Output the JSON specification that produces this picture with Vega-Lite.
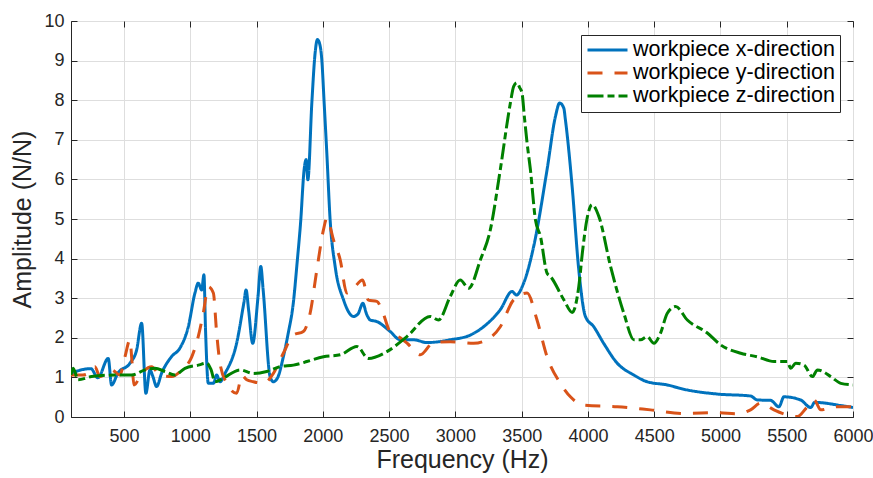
{
  "$schema": "https://vega.github.io/schema/vega-lite/v6.json",
  "width": 782,
  "height": 396,
  "autosize": "none",
  "padding": {"left": 71, "top": 21, "right": 20, "bottom": 61},
  "background": "white",
  "config": {
    "font": "Liberation Sans",
    "view": {"stroke": "#262626", "strokeWidth": 1},
    "axis": {
      "labelFontSize": 18,
      "labelColor": "#262626",
      "titleColor": "#262626",
      "titleFontSize": 25,
      "titleFontWeight": "normal",
      "domainColor": "#262626",
      "tickColor": "#262626",
      "gridColor": "#dedede",
      "gridWidth": 1,
      "tickSize": -6,
      "labelOverlap": false,
      "labelFlush": false,
      "labelFont": "Liberation Sans",
      "titleFont": "Liberation Sans"
    },
    "legend": {
      "orient": "none",
      "legendX": 510,
      "legendY": 14,
      "strokeColor": "#262626",
      "fillColor": "white",
      "padding": 5,
      "symbolType": "stroke",
      "symbolSize": 1600,
      "symbolStrokeWidth": 3,
      "clipHeight": 20,
      "labelFontSize": 21.5,
      "labelColor": "#000000",
      "labelOffset": 4,
      "labelLimit": 400,
      "rowPadding": 1,
      "labelFont": "Liberation Sans"
    }
  },
  "datasets": {
    "curves": [
      {"f": 100, "a": 1.10, "s": "workpiece x-direction"},
      {"f": 190, "a": 1.20, "s": "workpiece x-direction"},
      {"f": 250, "a": 1.22, "s": "workpiece x-direction"},
      {"f": 303, "a": 0.99, "s": "workpiece x-direction"},
      {"f": 381, "a": 1.48, "s": "workpiece x-direction"},
      {"f": 406, "a": 0.81, "s": "workpiece x-direction"},
      {"f": 454, "a": 1.11, "s": "workpiece x-direction"},
      {"f": 545, "a": 1.36, "s": "workpiece x-direction"},
      {"f": 595, "a": 1.69, "s": "workpiece x-direction"},
      {"f": 633, "a": 2.37, "s": "workpiece x-direction"},
      {"f": 665, "a": 0.60, "s": "workpiece x-direction"},
      {"f": 696, "a": 1.19, "s": "workpiece x-direction"},
      {"f": 718, "a": 1.02, "s": "workpiece x-direction"},
      {"f": 746, "a": 0.77, "s": "workpiece x-direction"},
      {"f": 784, "a": 1.11, "s": "workpiece x-direction"},
      {"f": 860, "a": 1.53, "s": "workpiece x-direction"},
      {"f": 922, "a": 1.74, "s": "workpiece x-direction"},
      {"f": 985, "a": 2.28, "s": "workpiece x-direction"},
      {"f": 1035, "a": 3.13, "s": "workpiece x-direction"},
      {"f": 1060, "a": 3.38, "s": "workpiece x-direction"},
      {"f": 1086, "a": 3.21, "s": "workpiece x-direction"},
      {"f": 1103, "a": 3.59, "s": "workpiece x-direction"},
      {"f": 1115, "a": 2.2, "s": "workpiece x-direction"},
      {"f": 1136, "a": 0.85, "s": "workpiece x-direction"},
      {"f": 1174, "a": 0.85, "s": "workpiece x-direction"},
      {"f": 1199, "a": 1.06, "s": "workpiece x-direction"},
      {"f": 1224, "a": 0.89, "s": "workpiece x-direction"},
      {"f": 1262, "a": 1.10, "s": "workpiece x-direction"},
      {"f": 1350, "a": 1.87, "s": "workpiece x-direction"},
      {"f": 1405, "a": 2.9, "s": "workpiece x-direction"},
      {"f": 1421, "a": 3.21, "s": "workpiece x-direction"},
      {"f": 1440, "a": 2.7, "s": "workpiece x-direction"},
      {"f": 1471, "a": 1.86, "s": "workpiece x-direction"},
      {"f": 1510, "a": 3.0, "s": "workpiece x-direction"},
      {"f": 1532, "a": 3.80, "s": "workpiece x-direction"},
      {"f": 1550, "a": 3.2, "s": "workpiece x-direction"},
      {"f": 1602, "a": 1.02, "s": "workpiece x-direction"},
      {"f": 1627, "a": 0.89, "s": "workpiece x-direction"},
      {"f": 1660, "a": 1.0, "s": "workpiece x-direction"},
      {"f": 1702, "a": 1.52, "s": "workpiece x-direction"},
      {"f": 1738, "a": 2.1, "s": "workpiece x-direction"},
      {"f": 1778, "a": 2.9, "s": "workpiece x-direction"},
      {"f": 1806, "a": 3.9, "s": "workpiece x-direction"},
      {"f": 1832, "a": 4.9, "s": "workpiece x-direction"},
      {"f": 1859, "a": 6.25, "s": "workpiece x-direction"},
      {"f": 1874, "a": 6.5, "s": "workpiece x-direction"},
      {"f": 1887, "a": 5.99, "s": "workpiece x-direction"},
      {"f": 1917, "a": 7.93, "s": "workpiece x-direction"},
      {"f": 1942, "a": 9.2, "s": "workpiece x-direction"},
      {"f": 1959, "a": 9.53, "s": "workpiece x-direction"},
      {"f": 1974, "a": 9.45, "s": "workpiece x-direction"},
      {"f": 1992, "a": 9.03, "s": "workpiece x-direction"},
      {"f": 2010, "a": 7.93, "s": "workpiece x-direction"},
      {"f": 2030, "a": 6.67, "s": "workpiece x-direction"},
      {"f": 2055, "a": 4.98, "s": "workpiece x-direction"},
      {"f": 2093, "a": 3.80, "s": "workpiece x-direction"},
      {"f": 2156, "a": 2.96, "s": "workpiece x-direction"},
      {"f": 2231, "a": 2.54, "s": "workpiece x-direction"},
      {"f": 2265, "a": 2.6, "s": "workpiece x-direction"},
      {"f": 2302, "a": 2.87, "s": "workpiece x-direction"},
      {"f": 2330, "a": 2.6, "s": "workpiece x-direction"},
      {"f": 2357, "a": 2.45, "s": "workpiece x-direction"},
      {"f": 2408, "a": 2.41, "s": "workpiece x-direction"},
      {"f": 2508, "a": 2.16, "s": "workpiece x-direction"},
      {"f": 2584, "a": 1.95, "s": "workpiece x-direction"},
      {"f": 2684, "a": 1.95, "s": "workpiece x-direction"},
      {"f": 2786, "a": 1.88, "s": "workpiece x-direction"},
      {"f": 2961, "a": 1.95, "s": "workpiece x-direction"},
      {"f": 3113, "a": 2.07, "s": "workpiece x-direction"},
      {"f": 3213, "a": 2.28, "s": "workpiece x-direction"},
      {"f": 3339, "a": 2.71, "s": "workpiece x-direction"},
      {"f": 3428, "a": 3.17, "s": "workpiece x-direction"},
      {"f": 3460, "a": 3.08, "s": "workpiece x-direction"},
      {"f": 3515, "a": 3.38, "s": "workpiece x-direction"},
      {"f": 3591, "a": 4.31, "s": "workpiece x-direction"},
      {"f": 3692, "a": 6.25, "s": "workpiece x-direction"},
      {"f": 3755, "a": 7.59, "s": "workpiece x-direction"},
      {"f": 3787, "a": 7.93, "s": "workpiece x-direction"},
      {"f": 3818, "a": 7.8, "s": "workpiece x-direction"},
      {"f": 3830, "a": 7.51, "s": "workpiece x-direction"},
      {"f": 3881, "a": 5.82, "s": "workpiece x-direction"},
      {"f": 3931, "a": 3.72, "s": "workpiece x-direction"},
      {"f": 3981, "a": 2.54, "s": "workpiece x-direction"},
      {"f": 4044, "a": 2.28, "s": "workpiece x-direction"},
      {"f": 4119, "a": 1.86, "s": "workpiece x-direction"},
      {"f": 4221, "a": 1.36, "s": "workpiece x-direction"},
      {"f": 4346, "a": 1.06, "s": "workpiece x-direction"},
      {"f": 4447, "a": 0.89, "s": "workpiece x-direction"},
      {"f": 4598, "a": 0.81, "s": "workpiece x-direction"},
      {"f": 4724, "a": 0.70, "s": "workpiece x-direction"},
      {"f": 4976, "a": 0.58, "s": "workpiece x-direction"},
      {"f": 5227, "a": 0.53, "s": "workpiece x-direction"},
      {"f": 5278, "a": 0.43, "s": "workpiece x-direction"},
      {"f": 5378, "a": 0.42, "s": "workpiece x-direction"},
      {"f": 5441, "a": 0.26, "s": "workpiece x-direction"},
      {"f": 5479, "a": 0.51, "s": "workpiece x-direction"},
      {"f": 5605, "a": 0.43, "s": "workpiece x-direction"},
      {"f": 5681, "a": 0.24, "s": "workpiece x-direction"},
      {"f": 5711, "a": 0.37, "s": "workpiece x-direction"},
      {"f": 5907, "a": 0.29, "s": "workpiece x-direction"},
      {"f": 6000, "a": 0.24, "s": "workpiece x-direction"},

      {"f": 100, "a": 1.06, "s": "workpiece y-direction"},
      {"f": 190, "a": 1.06, "s": "workpiece y-direction"},
      {"f": 230, "a": 1.10, "s": "workpiece y-direction"},
      {"f": 280, "a": 1.27, "s": "workpiece y-direction"},
      {"f": 318, "a": 1.02, "s": "workpiece y-direction"},
      {"f": 406, "a": 1.19, "s": "workpiece y-direction"},
      {"f": 469, "a": 1.06, "s": "workpiece y-direction"},
      {"f": 507, "a": 1.52, "s": "workpiece y-direction"},
      {"f": 545, "a": 1.95, "s": "workpiece y-direction"},
      {"f": 560, "a": 1.4, "s": "workpiece y-direction"},
      {"f": 575, "a": 0.81, "s": "workpiece y-direction"},
      {"f": 635, "a": 1.11, "s": "workpiece y-direction"},
      {"f": 708, "a": 1.27, "s": "workpiece y-direction"},
      {"f": 771, "a": 1.06, "s": "workpiece y-direction"},
      {"f": 860, "a": 1.02, "s": "workpiece y-direction"},
      {"f": 935, "a": 1.19, "s": "workpiece y-direction"},
      {"f": 1011, "a": 1.52, "s": "workpiece y-direction"},
      {"f": 1060, "a": 2.03, "s": "workpiece y-direction"},
      {"f": 1098, "a": 2.62, "s": "workpiece y-direction"},
      {"f": 1136, "a": 3.29, "s": "workpiece y-direction"},
      {"f": 1174, "a": 3.13, "s": "workpiece y-direction"},
      {"f": 1199, "a": 2.12, "s": "workpiece y-direction"},
      {"f": 1224, "a": 1.36, "s": "workpiece y-direction"},
      {"f": 1275, "a": 0.85, "s": "workpiece y-direction"},
      {"f": 1350, "a": 0.60, "s": "workpiece y-direction"},
      {"f": 1390, "a": 1.05, "s": "workpiece y-direction"},
      {"f": 1426, "a": 0.94, "s": "workpiece y-direction"},
      {"f": 1476, "a": 0.89, "s": "workpiece y-direction"},
      {"f": 1551, "a": 0.85, "s": "workpiece y-direction"},
      {"f": 1627, "a": 1.10, "s": "workpiece y-direction"},
      {"f": 1702, "a": 1.61, "s": "workpiece y-direction"},
      {"f": 1778, "a": 2.07, "s": "workpiece y-direction"},
      {"f": 1853, "a": 2.16, "s": "workpiece y-direction"},
      {"f": 1904, "a": 2.62, "s": "workpiece y-direction"},
      {"f": 1955, "a": 3.72, "s": "workpiece y-direction"},
      {"f": 2005, "a": 4.73, "s": "workpiece y-direction"},
      {"f": 2030, "a": 5.02, "s": "workpiece y-direction"},
      {"f": 2080, "a": 4.48, "s": "workpiece y-direction"},
      {"f": 2131, "a": 3.97, "s": "workpiece y-direction"},
      {"f": 2181, "a": 3.13, "s": "workpiece y-direction"},
      {"f": 2231, "a": 3.25, "s": "workpiece y-direction"},
      {"f": 2300, "a": 3.46, "s": "workpiece y-direction"},
      {"f": 2344, "a": 2.95, "s": "workpiece y-direction"},
      {"f": 2408, "a": 2.92, "s": "workpiece y-direction"},
      {"f": 2446, "a": 2.7, "s": "workpiece y-direction"},
      {"f": 2508, "a": 2.15, "s": "workpiece y-direction"},
      {"f": 2584, "a": 2.0, "s": "workpiece y-direction"},
      {"f": 2640, "a": 1.85, "s": "workpiece y-direction"},
      {"f": 2735, "a": 1.57, "s": "workpiece y-direction"},
      {"f": 2835, "a": 1.88, "s": "workpiece y-direction"},
      {"f": 2961, "a": 1.90, "s": "workpiece y-direction"},
      {"f": 3138, "a": 1.86, "s": "workpiece y-direction"},
      {"f": 3239, "a": 1.95, "s": "workpiece y-direction"},
      {"f": 3339, "a": 2.28, "s": "workpiece y-direction"},
      {"f": 3440, "a": 2.96, "s": "workpiece y-direction"},
      {"f": 3541, "a": 3.13, "s": "workpiece y-direction"},
      {"f": 3616, "a": 2.45, "s": "workpiece y-direction"},
      {"f": 3692, "a": 1.52, "s": "workpiece y-direction"},
      {"f": 3792, "a": 0.85, "s": "workpiece y-direction"},
      {"f": 3868, "a": 0.51, "s": "workpiece y-direction"},
      {"f": 3969, "a": 0.30, "s": "workpiece y-direction"},
      {"f": 4221, "a": 0.26, "s": "workpiece y-direction"},
      {"f": 4472, "a": 0.18, "s": "workpiece y-direction"},
      {"f": 4724, "a": 0.09, "s": "workpiece y-direction"},
      {"f": 4976, "a": 0.11, "s": "workpiece y-direction"},
      {"f": 5127, "a": 0.08, "s": "workpiece y-direction"},
      {"f": 5227, "a": 0.18, "s": "workpiece y-direction"},
      {"f": 5303, "a": 0.35, "s": "workpiece y-direction"},
      {"f": 5404, "a": 0.18, "s": "workpiece y-direction"},
      {"f": 5467, "a": 0.09, "s": "workpiece y-direction"},
      {"f": 5580, "a": 0.01, "s": "workpiece y-direction"},
      {"f": 5656, "a": 0.26, "s": "workpiece y-direction"},
      {"f": 5707, "a": 0.43, "s": "workpiece y-direction"},
      {"f": 5757, "a": 0.18, "s": "workpiece y-direction"},
      {"f": 5858, "a": 0.26, "s": "workpiece y-direction"},
      {"f": 6000, "a": 0.26, "s": "workpiece y-direction"},

      {"f": 100, "a": 1.06, "s": "workpiece z-direction"},
      {"f": 116, "a": 1.23, "s": "workpiece z-direction"},
      {"f": 154, "a": 0.94, "s": "workpiece z-direction"},
      {"f": 255, "a": 1.02, "s": "workpiece z-direction"},
      {"f": 431, "a": 1.06, "s": "workpiece z-direction"},
      {"f": 557, "a": 1.06, "s": "workpiece z-direction"},
      {"f": 658, "a": 1.19, "s": "workpiece z-direction"},
      {"f": 733, "a": 1.23, "s": "workpiece z-direction"},
      {"f": 809, "a": 1.15, "s": "workpiece z-direction"},
      {"f": 884, "a": 1.06, "s": "workpiece z-direction"},
      {"f": 960, "a": 1.23, "s": "workpiece z-direction"},
      {"f": 1060, "a": 1.31, "s": "workpiece z-direction"},
      {"f": 1124, "a": 1.36, "s": "workpiece z-direction"},
      {"f": 1156, "a": 1.2, "s": "workpiece z-direction"},
      {"f": 1187, "a": 0.89, "s": "workpiece z-direction"},
      {"f": 1249, "a": 0.98, "s": "workpiece z-direction"},
      {"f": 1375, "a": 1.19, "s": "workpiece z-direction"},
      {"f": 1476, "a": 1.10, "s": "workpiece z-direction"},
      {"f": 1577, "a": 1.15, "s": "workpiece z-direction"},
      {"f": 1677, "a": 1.27, "s": "workpiece z-direction"},
      {"f": 1778, "a": 1.31, "s": "workpiece z-direction"},
      {"f": 1829, "a": 1.35, "s": "workpiece z-direction"},
      {"f": 1879, "a": 1.40, "s": "workpiece z-direction"},
      {"f": 2005, "a": 1.52, "s": "workpiece z-direction"},
      {"f": 2131, "a": 1.57, "s": "workpiece z-direction"},
      {"f": 2257, "a": 1.78, "s": "workpiece z-direction"},
      {"f": 2344, "a": 1.48, "s": "workpiece z-direction"},
      {"f": 2483, "a": 1.65, "s": "workpiece z-direction"},
      {"f": 2634, "a": 2.03, "s": "workpiece z-direction"},
      {"f": 2810, "a": 2.54, "s": "workpiece z-direction"},
      {"f": 2873, "a": 2.45, "s": "workpiece z-direction"},
      {"f": 2961, "a": 3.04, "s": "workpiece z-direction"},
      {"f": 3037, "a": 3.46, "s": "workpiece z-direction"},
      {"f": 3100, "a": 3.25, "s": "workpiece z-direction"},
      {"f": 3189, "a": 3.97, "s": "workpiece z-direction"},
      {"f": 3264, "a": 4.73, "s": "workpiece z-direction"},
      {"f": 3339, "a": 6.25, "s": "workpiece z-direction"},
      {"f": 3415, "a": 7.93, "s": "workpiece z-direction"},
      {"f": 3440, "a": 8.35, "s": "workpiece z-direction"},
      {"f": 3465, "a": 8.44, "s": "workpiece z-direction"},
      {"f": 3485, "a": 8.32, "s": "workpiece z-direction"},
      {"f": 3503, "a": 8.18, "s": "workpiece z-direction"},
      {"f": 3520, "a": 7.6, "s": "workpiece z-direction"},
      {"f": 3541, "a": 6.92, "s": "workpiece z-direction"},
      {"f": 3566, "a": 6.25, "s": "workpiece z-direction"},
      {"f": 3604, "a": 4.98, "s": "workpiece z-direction"},
      {"f": 3642, "a": 4.56, "s": "workpiece z-direction"},
      {"f": 3692, "a": 3.63, "s": "workpiece z-direction"},
      {"f": 3717, "a": 3.55, "s": "workpiece z-direction"},
      {"f": 3818, "a": 2.96, "s": "workpiece z-direction"},
      {"f": 3881, "a": 2.64, "s": "workpiece z-direction"},
      {"f": 3931, "a": 3.29, "s": "workpiece z-direction"},
      {"f": 3960, "a": 4.2, "s": "workpiece z-direction"},
      {"f": 3994, "a": 5.02, "s": "workpiece z-direction"},
      {"f": 4032, "a": 5.36, "s": "workpiece z-direction"},
      {"f": 4083, "a": 5.06, "s": "workpiece z-direction"},
      {"f": 4171, "a": 3.80, "s": "workpiece z-direction"},
      {"f": 4271, "a": 2.62, "s": "workpiece z-direction"},
      {"f": 4347, "a": 1.95, "s": "workpiece z-direction"},
      {"f": 4397, "a": 1.95, "s": "workpiece z-direction"},
      {"f": 4447, "a": 2.03, "s": "workpiece z-direction"},
      {"f": 4498, "a": 1.86, "s": "workpiece z-direction"},
      {"f": 4548, "a": 2.12, "s": "workpiece z-direction"},
      {"f": 4599, "a": 2.62, "s": "workpiece z-direction"},
      {"f": 4662, "a": 2.79, "s": "workpiece z-direction"},
      {"f": 4750, "a": 2.45, "s": "workpiece z-direction"},
      {"f": 4901, "a": 2.12, "s": "workpiece z-direction"},
      {"f": 5002, "a": 1.82, "s": "workpiece z-direction"},
      {"f": 5153, "a": 1.61, "s": "workpiece z-direction"},
      {"f": 5279, "a": 1.52, "s": "workpiece z-direction"},
      {"f": 5404, "a": 1.40, "s": "workpiece z-direction"},
      {"f": 5505, "a": 1.40, "s": "workpiece z-direction"},
      {"f": 5530, "a": 1.23, "s": "workpiece z-direction"},
      {"f": 5568, "a": 1.36, "s": "workpiece z-direction"},
      {"f": 5631, "a": 1.31, "s": "workpiece z-direction"},
      {"f": 5694, "a": 1.02, "s": "workpiece z-direction"},
      {"f": 5732, "a": 1.19, "s": "workpiece z-direction"},
      {"f": 5832, "a": 1.02, "s": "workpiece z-direction"},
      {"f": 5908, "a": 0.85, "s": "workpiece z-direction"},
      {"f": 6000, "a": 0.81, "s": "workpiece z-direction"}
    ],
    "frame": [{"f": 100, "a": 0}]
  },
  "layer": [
    {
      "data": {"name": "curves"},
      "mark": {"type": "line", "strokeWidth": 3, "clip": true, "interpolate": "monotone"},
      "encoding": {
        "x": {
          "field": "f",
          "type": "quantitative",
          "scale": {"domain": [100, 6000], "nice": false, "zero": false},
          "axis": {
            "title": "Frequency (Hz)",
            "format": "d",
            "values": [500, 1000, 1500, 2000, 2500, 3000, 3500, 4000, 4500, 5000, 5500, 6000],
            "grid": true,
            "labelPadding": 16,
            "titlePadding": 2
          }
        },
        "y": {
          "field": "a",
          "type": "quantitative",
          "scale": {"domain": [0, 10], "nice": false},
          "axis": {
            "title": "Amplitude (N/N)",
            "format": "d",
            "values": [0, 1, 2, 3, 4, 5, 6, 7, 8, 9, 10],
            "grid": true,
            "labelPadding": 13,
            "titlePadding": 8
          }
        },
        "color": {
          "field": "s",
          "type": "nominal",
          "scale": {
            "domain": ["workpiece x-direction", "workpiece y-direction", "workpiece z-direction"],
            "range": ["#0072BD", "#D95319", "#008000"]
          },
          "legend": {"title": null}
        },
        "strokeDash": {
          "field": "s",
          "type": "nominal",
          "scale": {
            "domain": ["workpiece x-direction", "workpiece y-direction", "workpiece z-direction"],
            "range": [[1, 0], [15, 12], [16, 4, 7, 4]]
          },
          "legend": {"title": null}
        }
      }
    },
    {
      "data": {"name": "frame"},
      "mark": {"type": "point", "opacity": 0},
      "encoding": {
        "x": {
          "field": "f",
          "type": "quantitative",
          "axis": {
            "orient": "top",
            "labels": false,
            "title": null,
            "grid": false,
            "domain": false,
            "values": [500, 1000, 1500, 2000, 2500, 3000, 3500, 4000, 4500, 5000, 5500, 6000]
          }
        },
        "y": {
          "field": "a",
          "type": "quantitative",
          "axis": {
            "orient": "right",
            "labels": false,
            "title": null,
            "grid": false,
            "domain": false,
            "values": [0, 1, 2, 3, 4, 5, 6, 7, 8, 9, 10]
          }
        }
      }
    }
  ],
  "resolve": {"axis": {"x": "independent", "y": "independent"}}
}
